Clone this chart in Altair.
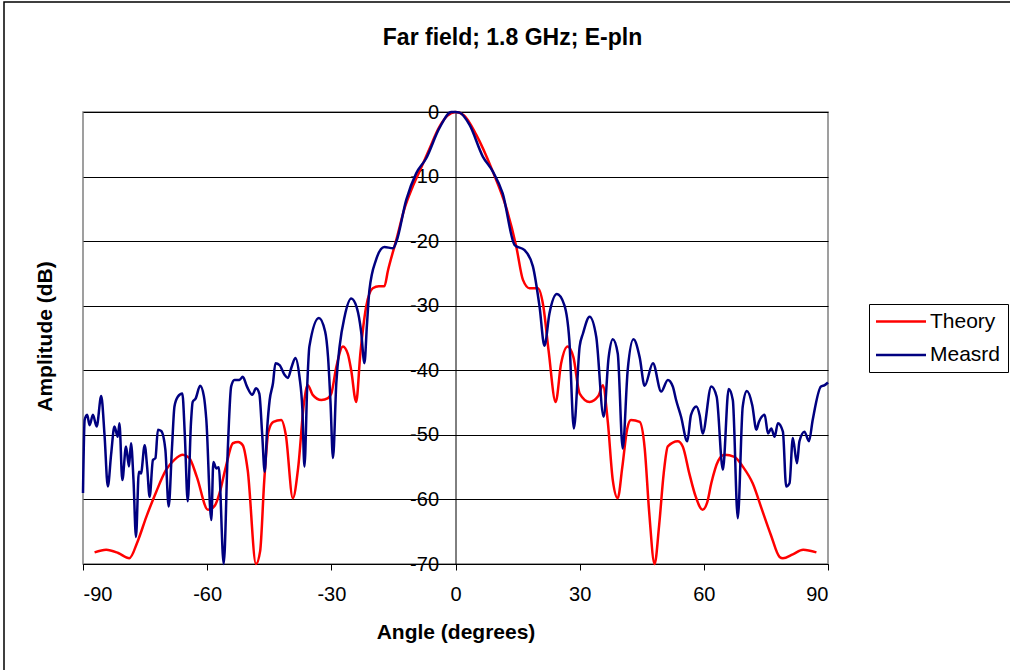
import altair as alt
import pandas as pd

# ---- data ----
theory_angle = [-87.2, -84.4, -81.5, -78.8, -76.8, -74.7, -72.3, -69.9, -67.8, -65.9, -64.3, -62.5,
                -59.8, -58.2, -57.0, -55.5, -53.8, -52.5, -51.4, -50.2, -48.2, -47.2, -46.2, -45.2,
                -44.0, -42.1, -41.0, -39.3, -38.0, -36.6, -35.7, -34.5, -32.4, -30.8, -30.0, -28.8,
                -27.2, -26.0, -25.2, -24.0, -23.0, -21.6, -20.0, -18.5, -17.2, -16.3, -14.3, -12.2,
                -10.5, -8.7, -6.5, -3.9, -2.0, 0.0,
                2.0, 5.0, 9.0, 12.2, 14.7, 16.3, 17.9, 19.9, 21.2, 22.5, 24.2, 25.5, 27.1, 28.5,
                30.0, 32.4, 34.5, 35.6, 36.8, 38.0, 39.2, 40.3, 41.5, 42.4, 44.5, 45.7, 46.8, 48.1,
                49.2, 50.3, 51.3, 53.7, 54.9, 56.5, 58.0, 59.7, 60.8, 61.8, 63.5, 65.0, 67.4, 69.5,
                71.8, 74.0, 76.2, 78.3, 79.1, 81.5, 84.0, 87.2]
theory_db = [-68.2, -67.8, -68.3, -69.1, -66.5, -62.7, -58.8, -55.4, -53.8, -53.1, -53.6, -56.5,
             -61.6, -61.0, -59.0, -55.0, -51.3, -51.1, -51.6, -55.5, -70.0, -68.0, -57.0, -49.5,
             -48.0, -47.7, -50.0, -59.8, -55.0, -45.0, -42.3, -43.8, -44.6, -44.3, -43.6, -39.5,
             -36.3, -37.5, -40.0, -44.9, -37.5, -30.2, -27.3, -27.0, -27.0, -24.5, -19.8, -14.7,
             -11.8, -9.2, -6.0, -2.3, -0.6, 0.0,
             -0.5, -3.5, -9.2, -14.7, -20.9, -26.0, -27.3, -27.3, -30.0, -37.0, -44.9, -39.0,
             -36.3, -38.0, -43.6, -44.9, -44.0, -42.3, -48.0, -57.0, -59.8, -55.0, -49.0, -47.7,
             -48.0, -52.0, -62.0, -70.0, -64.0, -56.0, -51.8, -51.0, -51.8, -56.0, -59.5, -61.6,
             -60.5, -57.5, -54.0, -53.1, -53.4, -55.0, -57.5, -61.5, -65.5, -68.9, -69.1, -68.5,
             -67.8, -68.2]

meas_angle = [-90.0, -89.6, -89.0, -88.4, -87.6, -86.7, -85.6, -84.8, -84.0, -83.2, -82.4, -81.6,
              -81.2, -80.5, -79.6, -78.9, -78.4, -77.8, -77.2, -76.5, -76.0, -75.1, -74.5, -73.9,
              -73.1, -72.5, -71.9, -71.1, -70.1, -69.3, -68.5, -67.9, -67.1, -66.0, -65.4, -64.7,
              -63.9, -63.5, -62.8, -61.7, -60.8, -60.2, -59.0, -58.5, -57.8, -57.2, -56.0, -55.0,
              -54.2, -53.4, -52.2, -51.4, -50.4, -49.1, -48.2, -47.4, -46.7, -46.1, -45.5, -44.9,
              -44.1, -43.5, -42.5, -41.3, -40.5, -39.6, -38.7, -37.7, -37.0, -36.5, -35.8, -35.3,
              -33.0, -31.5, -30.8, -30.2, -29.6, -28.8, -28.0, -26.8, -25.2, -23.8, -22.8, -22.0,
              -21.4, -20.8, -19.2, -17.2, -15.1, -14.3, -11.9, -9.5, -7.1, -3.9, -1.0, 0.0,
              1.0, 3.4, 6.6, 9.0, 11.4, 14.3, 16.7, 18.7, 20.3, 21.5, 22.7, 24.5, 26.3, 27.5,
              28.6, 30.0, 30.8, 32.4, 34.0, 35.8, 37.0, 38.0, 39.2, 40.4, 41.6, 43.0, 44.5, 45.7,
              47.7, 49.7, 51.3, 52.5, 53.3, 54.5, 56.0, 56.9, 58.2, 59.0, 59.7, 61.8, 63.1, 64.6,
              66.0, 67.0, 68.2, 69.4, 70.4, 71.7, 72.7, 73.3, 74.7, 75.5, 76.3, 77.1, 77.9, 79.1,
              79.9, 80.7, 81.5, 82.5, 83.1, 84.3, 85.4, 86.3, 88.3, 89.2, 90.0]
meas_db = [-59.0, -47.7, -46.9, -48.5, -46.9, -48.7, -44.0, -50.0, -58.0, -53.0, -48.7, -50.3,
           -48.2, -57.0, -51.8, -54.9, -51.3, -57.0, -65.8, -55.7, -56.0, -51.6, -55.0, -59.6,
           -53.9, -53.6, -49.2, -49.4, -52.3, -61.1, -52.0, -45.6, -44.1, -43.6, -50.0, -60.3,
           -48.0, -44.9, -44.4, -42.4, -44.0, -47.7, -63.2, -54.2, -55.2, -55.0, -70.0, -52.0,
           -42.5, -41.5, -41.5, -41.0, -42.5, -43.8, -42.8, -43.6, -50.0, -55.7, -49.0, -44.6,
           -42.0, -38.9, -39.2, -40.7, -41.2, -39.5, -38.1, -41.0, -46.0, -54.9, -42.0, -36.3,
           -31.9, -34.0, -37.9, -45.0, -53.6, -42.0, -36.3, -31.7, -28.9, -30.4, -34.0, -38.9,
           -33.0, -27.6, -22.9, -20.9, -21.1, -20.1, -13.6, -9.5, -7.2, -2.5, 0.0, 0.0,
           -0.1, -2.0, -6.9, -9.2, -12.6, -20.6, -21.4, -23.9, -30.1, -36.2, -31.2, -28.2,
           -29.9, -35.3, -49.0, -36.3, -34.3, -31.7, -34.8, -47.2, -38.0, -35.2, -37.4, -52.1,
           -40.0, -35.2, -38.0, -42.4, -38.9, -43.3, -41.5, -42.5, -44.6, -47.2, -51.0, -46.9,
           -45.6, -47.0, -49.8, -42.5, -44.1, -55.4, -42.9, -44.6, -62.9, -45.6, -43.2, -45.4,
           -49.2, -48.0, -46.9, -49.8, -49.0, -50.3, -48.2, -49.5, -58.0, -57.5, -50.5, -54.4,
           -51.0, -49.5, -51.0, -47.7, -42.5, -42.3, -41.9]

series_names = ["Theory", "Measrd"]
series_colors = ["#FF0000", "#000080"]
x_ticks = [-90, -60, -30, 0, 30, 60, 90]
y_ticks = [0, -10, -20, -30, -40, -50, -60, -70]

df_t = pd.DataFrame({"angle": theory_angle, "db": theory_db, "series": "Theory"})
df_m = pd.DataFrame({"angle": meas_angle, "db": meas_db, "series": "Measrd"})

FONT = "Liberation Sans"
W, H = 745, 452
PAD_L, PAD_T = 83, 112

x_enc = alt.X(
    "angle:Q",
    scale=alt.Scale(domain=[-90, 90], nice=False, zero=False),
    axis=alt.Axis(
        values=x_ticks, title="Angle (degrees)", grid=False,
        domainColor="black", domainWidth=1, tickColor="black", tickSize=6,
        labelFontSize=20, labelColor="black", labelPadding=14,
        labelExpr="'' + datum.value",
        titleFontSize=21, titleFontWeight="bold", titleColor="black",
        titleX=W / 2, titleY=68, titleBaseline="middle", titleAlign="center",
    ),
)
y_enc = alt.Y(
    "db:Q",
    scale=alt.Scale(domain=[-70, 0], nice=False, zero=False),
    axis=alt.Axis(
        values=y_ticks, title="Amplitude (dB)", offset=-W / 2,
        grid=True, gridColor="black", gridWidth=1,
        domainColor="black", domainWidth=1, tickColor="black", tickSize=6,
        labelFontSize=20, labelColor="black", labelPadding=11,
        labelExpr="'' + datum.value",
        titleFontSize=21, titleFontWeight="bold", titleColor="black",
        titleX=45 - (PAD_L + W / 2), titleY=224, titleAngle=-90,
        titleBaseline="middle", titleAlign="center",
    ),
)
color_enc = alt.Color(
    "series:N",
    scale=alt.Scale(domain=series_names, range=series_colors),
    title=None,
    legend=alt.Legend(
        orient="none", legendX=786, legendY=192,
        strokeColor="black", padding=7, fillColor="white",
        symbolType="M-1.3125,0H4.9375", symbolSize=256, symbolStrokeWidth=2.5,
        labelFontSize=21, labelColor="black", labelOffset=33, rowPadding=11.5,
    ),
)

theory = alt.Chart(df_t).mark_line(strokeWidth=2.5, interpolate="monotone").encode(
    x=x_enc, y=y_enc, color=color_enc, order="angle:Q")
measured = alt.Chart(df_m).mark_line(strokeWidth=2.5, interpolate="monotone").encode(
    x=x_enc, y=y_enc, color=color_enc, order="angle:Q")

frame = alt.Chart(pd.DataFrame({"k": [0]})).mark_rect(
    fillOpacity=0, stroke="black", strokeWidth=1.5).encode(
    x=alt.value(-79), x2=alt.value(929), y=alt.value(-110), y2=alt.value(560))

chart = alt.layer(frame, theory, measured).properties(
    width=W, height=H,
    title=alt.TitleParams(
        "Far field; 1.8 GHz; E-pln", fontSize=23, fontWeight="bold", color="black",
        font=FONT, anchor="middle", frame="group", dx=57, offset=-60, baseline="middle"),
    autosize=alt.AutoSizeParams(type="none"),
    padding={"left": PAD_L, "top": PAD_T, "right": 1010 - PAD_L - W,
             "bottom": 670 - PAD_T - H},
).configure(font=FONT).configure_view(stroke="#808080", strokeWidth=1.5)

chart.save("out.html", embed_options={"renderer": "svg", "actions": False})
